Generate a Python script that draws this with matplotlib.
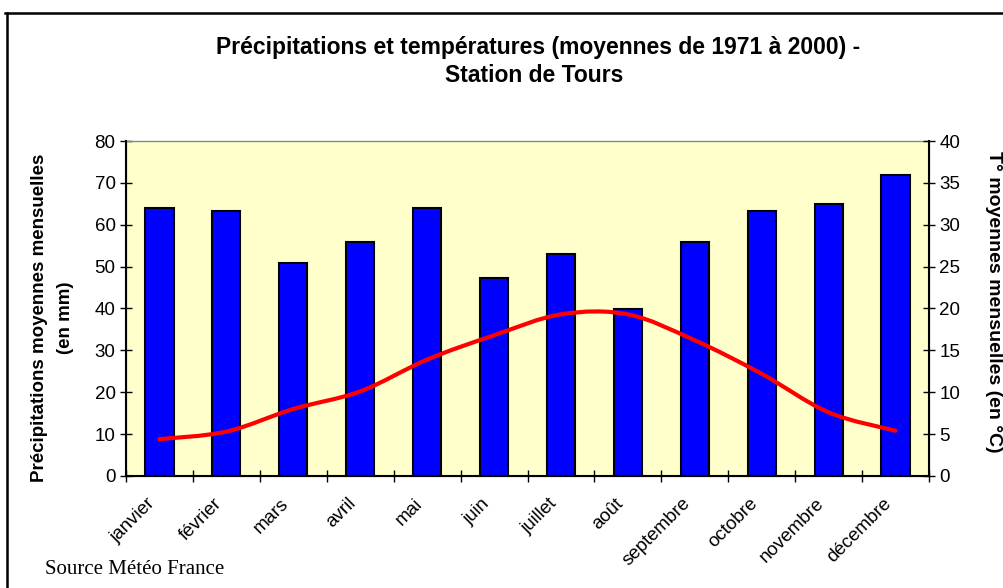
import matplotlib
matplotlib.use("Agg")
import matplotlib.pyplot as plt
from matplotlib.lines import Line2D
from matplotlib.path import Path
from matplotlib.patches import PathPatch
from matplotlib.transforms import ScaledTranslation

mois = ["janvier", "février", "mars", "avril", "mai", "juin", "juillet",
        "août", "septembre", "octobre", "novembre", "décembre"]
precipitations = [64, 63.2, 50.8, 55.8, 64, 47.2, 52.9, 39.9, 55.8, 63.2, 64.9, 71.8]
temperatures = [4.4, 5.3, 8.0, 10.1, 13.9, 16.8, 19.3, 19.3, 16.2, 12.2, 7.6, 5.4]
ticks_mm = [0, 10, 20, 30, 40, 50, 60, 70, 80]
ticks_deg = [0, 5, 10, 15, 20, 25, 30, 35, 40]

plt.rcParams['font.family'] = ['Liberation Sans', 'DejaVu Sans']

fig = plt.figure(figsize=(10.04, 5.88), dpi=100)
ax = fig.add_axes([0.1255, 0.1905, 0.7998, 0.5697])
ax.set_facecolor("#FFFFCC")

x = list(range(len(mois)))
ax.bar(x, precipitations, width=0.42, color="#0000FF", edgecolor="black",
       linewidth=1.5, zorder=2)
ax.set_xlim(-0.5, len(mois) - 0.5)
ax.set_ylim(0, 80)
ax.set_yticks(ticks_mm)
ax.set_xticks([i - 0.5 for i in range(len(mois) + 1)])
ax.set_xticklabels([])
ax.set_xticks(x, minor=True)
ax.set_xticklabels(mois, minor=True, rotation=45, ha="right", va="center",
                   rotation_mode="anchor", fontsize=13.5)
ax.tick_params(axis="x", which="minor", length=0, pad=18)
ax.tick_params(axis="both", which="major", direction="inout", length=9,
               width=1, labelsize=13.5, pad=3)
decal = ScaledTranslation(-7 / 100, 0, fig.dpi_scale_trans)
for lab in ax.get_xticklabels(minor=True):
    lab.set_transform(lab.get_transform() + decal)

for s in ["left", "bottom"]:
    ax.spines[s].set_linewidth(1.5)
ax.spines["top"].set_color("#888888")
ax.spines["top"].set_linewidth(1)

ax.set_ylabel("Précipitations moyennes mensuelles\n(en mm)", fontsize=13.5,
              fontweight="bold", linespacing=1.7, va="center")
ax.yaxis.set_label_coords(-0.092, 0.473)

ax2 = ax.twinx()
ax2.set_ylim(0, 40)
ax2.set_yticks(ticks_deg)
ax2.tick_params(axis="y", direction="inout", length=9, width=1,
                labelsize=13.5, pad=3)
ax2.spines["right"].set_linewidth(1.5)
ax2.spines["top"].set_visible(False)
ax2.set_ylabel("T° moyennes mensuelles (en °C)", fontsize=14,
               fontweight="bold", rotation=270, va="center")
ax2.yaxis.set_label_coords(1.0797, 0.521)

# courbe lissée (style Excel) : Bézier passant par chaque point
pts = list(zip(x, temperatures))
verts = [pts[0]]
codes = [Path.MOVETO]
for i in range(len(pts) - 1):
    p0 = pts[i - 1] if i > 0 else pts[i]
    p1 = pts[i]
    p2 = pts[i + 1]
    p3 = pts[i + 2] if i + 2 < len(pts) else pts[i + 1]
    c1 = (p1[0] + (p2[0] - p0[0]) / 6, p1[1] + (p2[1] - p0[1]) / 6)
    c2 = (p2[0] - (p3[0] - p1[0]) / 6, p2[1] - (p3[1] - p1[1]) / 6)
    verts += [c1, c2, p2]
    codes += [Path.CURVE4] * 3
ax2.add_patch(PathPatch(Path(verts, codes), facecolor="none",
                        edgecolor="#FF0000", linewidth=3, zorder=3,
                        capstyle="round", joinstyle="round"))

fig.text(0.536, 0.920, "Précipitations et températures (moyennes de 1971 à 2000) -",
         ha="center", va="center", fontsize=16.5, fontweight="bold")
fig.text(0.532, 0.871, "Station de Tours", ha="center", va="center",
         fontsize=16.5, fontweight="bold")
fig.text(0.045, 0.031, "Source Météo France", ha="left", va="center",
         fontsize=15, family=["Liberation Serif", "DejaVu Serif"])

# cadre du graphique
fig.add_artist(Line2D([0.005, 1.0], [0.978, 0.978], color="black", linewidth=1.8))
fig.add_artist(Line2D([0.0065, 0.0065], [0.0, 0.978], color="black", linewidth=1.8))

fig.savefig("out.png", dpi=100)
